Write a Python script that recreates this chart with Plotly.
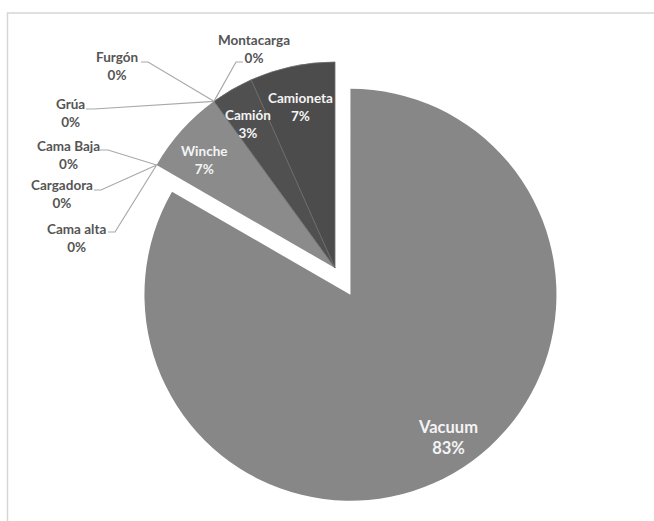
import math
import plotly.graph_objects as go

# Vehicle types, listed clockwise from 12 o'clock
labels = ["Vacuum", "Cama alta", "Cargadora", "Cama Baja", "Winche",
          "Grúa", "Furgón", "Montacarga", "Camión", "Camioneta"]
values = [25, 0, 0, 0, 2, 0, 0, 0, 1, 2]

# Styling
pulls = [0.15, 0, 0, 0, 0, 0, 0, 0, 0, 0]
colors = ["#878787", "#8a8a8a", "#8a8a8a", "#8a8a8a", "#8b8b8b",
          "#6a6a6a", "#626262", "#585858", "#505050", "#4c4c4c"]
line_w = [0, 0, 0, 0, 0, 0, 0, 0, 0.8, 0.8]

W, H = 654, 521
CX, CY, R = 335, 268, 206          # pie centre and radius in pixels
FONT = "Lato"
OUT_COLOR = "#555555"
IN_COLOR = "#f4f4f4"

# label block centres (pixels) and leader-line tails for the outside labels
outside_pos = {
    "Cama alta":  ((76.5, 237.5), ((115, 232), (108, 232))),
    "Cargadora":  ((61.5, 194.0), ((101, 190), (94, 190))),
    "Cama Baja":  ((68.0, 155.0), ((108, 150), (100, 150))),
    "Grúa":       ((70.0, 113.5), ((94, 109), (86, 109))),
    "Furgón":     ((117.0, 66.0), ((148, 62), (141, 62))),
    "Montacarga": ((253.5, 48.5), ((236, 62), (243, 62))),
}
# label block centres (pixels) and font sizes for the inside labels
inside_pos = {
    "Vacuum":    ((448, 437.5), 16.5),
    "Winche":    ((204, 160), 13.5),
    "Camión":    ((248, 124.5), 13.5),
    "Camioneta": ((300, 107), 13.5),
}

total = sum(values)
half = R * (1 + max(pulls))


def px(x):
    return x / W


def py(y):
    return 1 - y / H


fig = go.Figure(go.Pie(
    labels=labels,
    values=values,
    sort=False,
    direction="clockwise",
    rotation=0,
    pull=pulls,
    textinfo="none",
    hoverinfo="label+percent",
    showlegend=False,
    marker=dict(colors=colors, line=dict(color="#6c6c6c", width=line_w)),
    domain=dict(x=[px(CX - half), px(CX + half)],
                y=[py(CY + half), py(CY - half)]),
))

annotations = []
shapes = []

# frame around the chart area
shapes.append(dict(type="rect", xref="paper", yref="paper",
                   x0=px(7.5), x1=1.02, y0=-0.02, y1=py(13),
                   line=dict(color="#d6d6d6", width=1.5), layer="below"))

cum = 0
for name, v in zip(labels, values):
    pct = f"{round(100 * v / total)}%"
    if v == 0:
        # anchor on the rim where the zero-width slice sits
        ang = math.radians(360 * cum / total)
        ax = CX + R * math.sin(ang)
        ay = CY - R * math.cos(ang)
        (lx, ly), (t0, t1) = outside_pos[name]
        path = (f"M {px(t1[0])},{py(t1[1])} L {px(t0[0])},{py(t0[1])} "
                f"L {px(ax)},{py(ay)}")
        shapes.append(dict(type="path", xref="paper", yref="paper", path=path,
                           line=dict(color="#a9a9a9", width=1.2)))
        annotations.append(dict(
            x=px(lx), y=py(ly), xref="paper", yref="paper",
            text=f"<b>{name}</b><br><b>{pct}</b>", showarrow=False,
            xanchor="center", yanchor="middle", align="center",
            font=dict(family=FONT, size=13.5, color=OUT_COLOR)))
    else:
        (lx, ly), size = inside_pos[name]
        annotations.append(dict(
            x=px(lx), y=py(ly), xref="paper", yref="paper",
            text=f"<b>{name}</b><br><b>{pct}</b>", showarrow=False,
            xanchor="center", yanchor="middle", align="center",
            font=dict(family=FONT, size=size, color=IN_COLOR)))
    cum += v

fig.update_layout(
    width=W, height=H,
    margin=dict(l=0, r=0, t=0, b=0),
    paper_bgcolor="white",
    plot_bgcolor="white",
    annotations=annotations,
    shapes=shapes,
)

fig.write_html("out.html")
